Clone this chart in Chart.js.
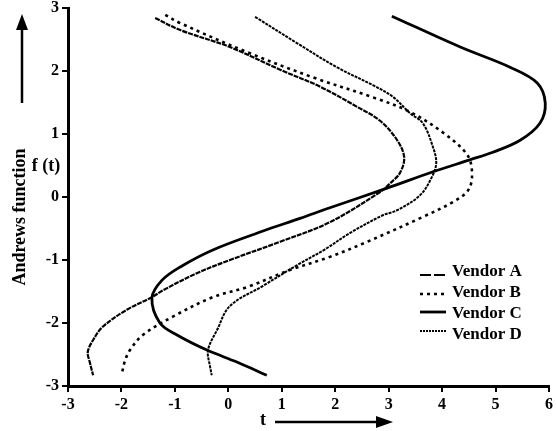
<!DOCTYPE html>
<html>
<head>
<meta charset="utf-8">
<script src="https://cdn.jsdelivr.net/npm/chart.js@4.4.1/dist/chart.umd.min.js"></script>
<style>
  html, body { margin: 0; padding: 0; background: #fff; }
  #wrap { width: 556px; height: 431px; position: relative; }
</style>
</head>
<body>
<div id="wrap"><canvas id="chart"></canvas></div>
<script>
// t (horizontal) and f(t) (vertical), in drawing order
const vendorA_t = [-1.37, -0.90, 0.03, 0.97, 1.72, 2.41, 2.84, 3.16, 3.29, 3.21, 3.03, 2.84, 1.90, 0.97, 0.03, -0.59, -1.22, -1.43, -1.90, -2.35, -2.53, -2.63, -2.59, -2.53];
const vendorA_f = [2.84, 2.65, 2.38, 2.02, 1.75, 1.43, 1.21, 0.90, 0.63, 0.38, 0.22, 0.08, -0.40, -0.71, -1.00, -1.21, -1.48, -1.59, -1.79, -2.06, -2.27, -2.46, -2.63, -2.83];

const vendorB_t = [-1.18, -0.90, 0.35, 1.58, 2.78, 3.40, 4.02, 4.47, 4.56, 4.49, 4.20, 3.68, 2.60, 1.90, 1.15, 0.35, -0.29, -1.04, -1.60, -1.84, -1.93, -1.99];
const vendorB_f = [2.89, 2.76, 2.30, 1.90, 1.56, 1.35, 1.02, 0.67, 0.38, 0.11, -0.08, -0.30, -0.71, -0.95, -1.16, -1.43, -1.59, -1.90, -2.19, -2.43, -2.59, -2.79];

const vendorC_t = [3.06, 4.34, 5.27, 5.78, 5.93, 5.83, 5.46, 4.95, 4.52, 3.83, 2.97, 1.90, 1.34, 0.65, -0.29, -0.90, -1.24, -1.43, -1.28, -0.96, -0.40, 0.16, 0.72];
const vendorC_f = [2.87, 2.38, 2.06, 1.81, 1.49, 1.17, 0.90, 0.71, 0.59, 0.40, 0.14, -0.17, -0.34, -0.54, -0.84, -1.11, -1.32, -1.60, -2.00, -2.19, -2.43, -2.62, -2.83];

const vendorD_t = [0.50, 1.29, 2.03, 2.74, 3.08, 3.40, 3.64, 3.83, 3.89, 3.81, 3.59, 3.16, 2.89, 2.28, 1.81, 1.29, 0.65, 0.03, -0.21, -0.38, -0.34, -0.31];
const vendorD_f = [2.86, 2.44, 2.06, 1.76, 1.59, 1.33, 1.17, 0.79, 0.54, 0.32, 0.03, -0.21, -0.29, -0.57, -0.83, -1.08, -1.41, -1.73, -2.11, -2.43, -2.70, -2.83];

const seriesNames = ["Vendor A", "Vendor B", "Vendor C", "Vendor D"];
const xTickValues = [-3, -2, -1, 0, 1, 2, 3, 4, 5, 6];
const yTickValues = [-3, -2, -1, 0, 1, 2, 3];

const serif = "'Liberation Serif', 'DejaVu Serif', serif";

function points(ts, fs) {
  return ts.map((t, i) => ({ x: t, y: fs[i] }));
}

const lineStyles = [
  { borderDash: [5, 1], borderWidth: 2.2, borderColor: "#000" },
  { borderDash: [3, 4], borderWidth: 2.6, borderColor: "#000" },
  { borderDash: [], borderWidth: 2.8, borderColor: "#000" },
  { borderDash: [3, 1], borderWidth: 2, borderColor: "#000" }
];
// the key uses its own dash patterns
const legendDash = [[11, 3], [3, 4], [], [2, 1]];

const allData = [
  points(vendorA_t, vendorA_f),
  points(vendorB_t, vendorB_f),
  points(vendorC_t, vendorC_f),
  points(vendorD_t, vendorD_f)
];

// labels, arrows and the legend box drawn on top of the chart
const decorations = {
  id: "decorations",
  afterDraw(chart) {
    const ctx = chart.ctx;
    ctx.save();
    ctx.fillStyle = "#000";
    ctx.strokeStyle = "#000";

    // vertical axis title
    ctx.font = "bold 18px " + serif;
    ctx.textAlign = "center";
    ctx.textBaseline = "middle";
    ctx.save();
    ctx.translate(20, 217);
    ctx.rotate(-Math.PI / 2);
    ctx.fillText("Andrews function", 0, 0);
    ctx.restore();
    ctx.fillText("f (t)", 46, 166);

    // up arrow
    ctx.lineWidth = 2.5;
    ctx.beginPath();
    ctx.moveTo(22, 103);
    ctx.lineTo(22, 26);
    ctx.stroke();
    ctx.beginPath();
    ctx.moveTo(22, 14);
    ctx.lineTo(16, 30);
    ctx.lineTo(28, 30);
    ctx.closePath();
    ctx.fill();

    // horizontal axis title and arrow
    ctx.fillText("t", 263, 420);
    ctx.beginPath();
    ctx.moveTo(275, 422);
    ctx.lineTo(380, 422);
    ctx.stroke();
    ctx.beginPath();
    ctx.moveTo(393, 422);
    ctx.lineTo(376, 416);
    ctx.lineTo(376, 428);
    ctx.closePath();
    ctx.fill();

    // legend
    const rowsY = [272, 293, 314, 335];
    const sampleY = [275, 294, 312, 331];
    ctx.font = "bold 17px " + serif;
    ctx.textAlign = "left";
    chart.data.datasets.forEach((ds, i) => {
      ctx.lineWidth = ds.borderWidth;
      ctx.setLineDash(legendDash[i]);
      ctx.strokeStyle = ds.borderColor;
      ctx.beginPath();
      ctx.moveTo(420, sampleY[i]);
      ctx.lineTo(446, sampleY[i]);
      ctx.stroke();
      ctx.setLineDash([]);
      ctx.fillText(ds.label, 452, rowsY[i]);
    });
    ctx.restore();
  }
};

const ctx = document.getElementById("chart").getContext("2d");
new Chart(ctx, {
  type: "scatter",
  data: {
    datasets: seriesNames.map((name, i) => ({
      label: name,
      data: allData[i],
      showLine: true,
      fill: false,
      tension: 0.35,
      pointRadius: 0,
      pointHoverRadius: 0,
      ...lineStyles[i]
    }))
  },
  options: {
    responsive: true,
    maintainAspectRatio: false,
    animation: false,
    layout: { padding: { top: 8, right: 7, left: 0, bottom: 0 } },
    plugins: {
      legend: { display: false },
      tooltip: { enabled: false }
    },
    scales: {
      x: {
        type: "linear",
        min: -3,
        max: 6,
        afterFit(scale) { scale.height = 45; scale.paddingRight = 0; scale.paddingLeft = 0; },
        afterBuildTicks(scale) { scale.ticks = xTickValues.map(v => ({ value: v })); },
        border: { color: "#000", width: 3 },
        grid: { drawOnChartArea: false, drawTicks: true, tickLength: 6, color: "#000", lineWidth: 2 },
        ticks: { color: "#000", padding: 3, font: { family: serif, size: 16, weight: "bold" } }
      },
      y: {
        type: "linear",
        min: -3,
        max: 3,
        afterFit(scale) { scale.width = 68; scale.paddingTop = 0; scale.paddingBottom = 0; },
        afterBuildTicks(scale) { scale.ticks = yTickValues.map(v => ({ value: v })); },
        border: { color: "#000", width: 3 },
        grid: { drawOnChartArea: false, drawTicks: true, tickLength: 6, color: "#000", lineWidth: 2 },
        ticks: { color: "#000", padding: 3, font: { family: serif, size: 16, weight: "bold" } }
      }
    }
  },
  plugins: [decorations]
});
</script>
</body>
</html>
